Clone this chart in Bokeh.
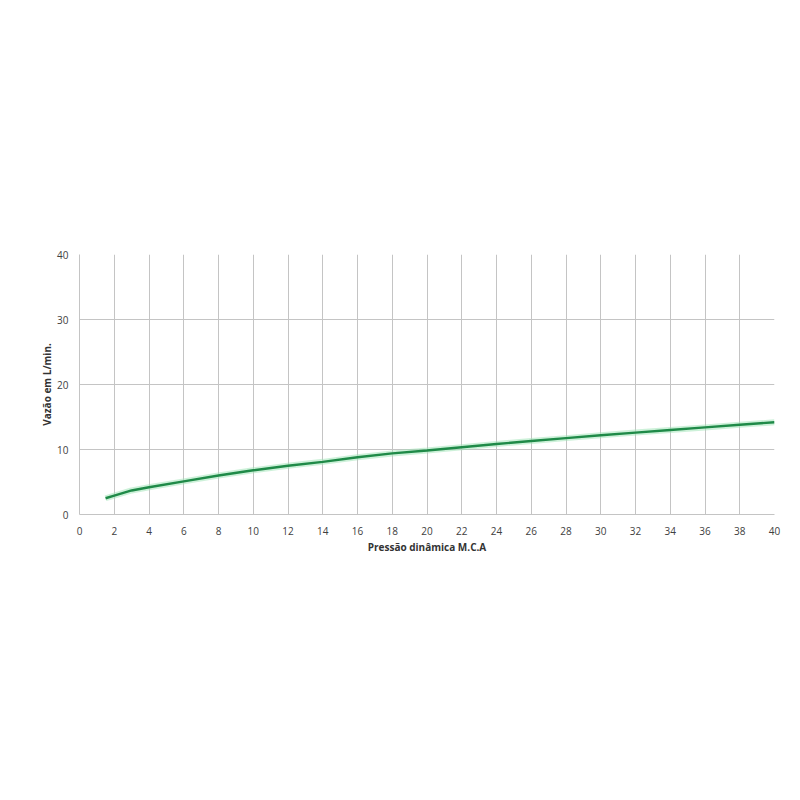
from bokeh.plotting import figure
from bokeh.models import FixedTicker, Range1d
from bokeh.embed import file_html
from bokeh.resources import INLINE

# pressão dinâmica (m.c.a) e vazão (L/min)
pressao = [1.5, 2, 3, 4, 6, 8, 10, 12, 14, 16, 18, 20,
           22, 24, 26, 28, 30, 32, 34, 36, 38, 40]
vazao = [2.5, 2.9, 3.7, 4.2, 5.1, 6.0, 6.8, 7.5, 8.1, 8.8, 9.4, 9.85,
         10.35, 10.85, 11.3, 11.75, 12.2, 12.6, 13.0, 13.4, 13.8, 14.2]

x_ticks = list(range(0, 41, 2))
y_ticks = [0, 10, 20, 30, 40]

FONT = "Open Sans"
GRID = "#c4c4c4"

p = figure(
    width=784, height=784,
    x_range=Range1d(0, 40), y_range=Range1d(0, 40),
    x_axis_label="Pressão dinâmica M.C.A",
    y_axis_label="Vazão em L/min.",
    toolbar_location=None, output_backend="svg",
    min_border_left=79, min_border_right=10,
    min_border_top=254, min_border_bottom=270,
)
p.outline_line_color = None

# leve brilho por baixo da linha
p.line(pressao, vazao, line_width=6, color="#9be3b4", alpha=0.5)
p.line(pressao, vazao, line_width=2.4, color="#1f8a48")

p.xaxis.ticker = FixedTicker(ticks=x_ticks)
p.yaxis.ticker = FixedTicker(ticks=y_ticks)

for ax in (p.xaxis, p.yaxis):
    ax.axis_line_color = GRID
    ax.major_tick_line_color = None
    ax.minor_tick_line_color = None
    ax.major_label_text_font = FONT
    ax.major_label_text_font_size = "10px"
    ax.major_label_text_color = "#404040"
    ax.axis_label_text_font = FONT
    ax.axis_label_text_font_size = "10px"
    ax.axis_label_text_font_style = "bold"
    ax.axis_label_text_color = "#333333"

p.xaxis.major_label_standoff = 6
p.yaxis.major_label_standoff = 5
p.xaxis.axis_label_standoff = 2
p.yaxis.axis_label_standoff = 0

p.xgrid.ticker = FixedTicker(ticks=x_ticks)
p.ygrid.ticker = FixedTicker(ticks=y_ticks)
p.xgrid.grid_line_color = GRID
p.ygrid.grid_line_color = GRID

open("out.html", "w").write(file_html(p, INLINE))
